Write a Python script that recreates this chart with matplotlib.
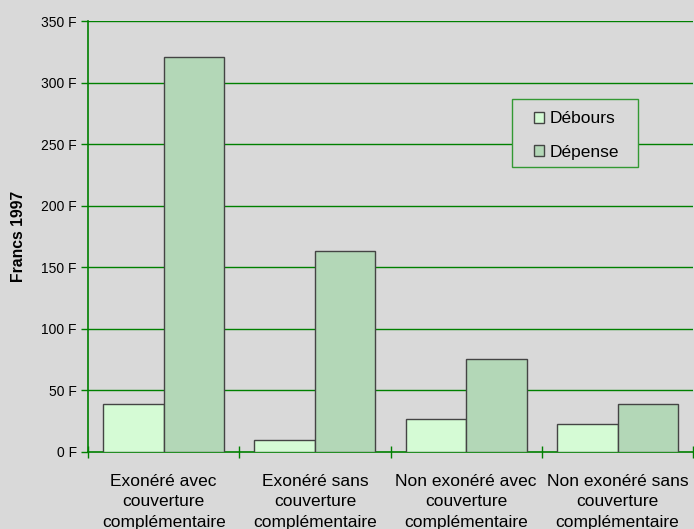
import matplotlib.pyplot as plt
import numpy as np
from matplotlib.patches import Rectangle

plt.rcParams['font.family'] = ['Liberation Sans', 'DejaVu Sans']

categories = ['Exonéré avec\ncouverture\ncomplémentaire',
              'Exonéré sans\ncouverture\ncomplémentaire',
              'Non exonéré avec\ncouverture\ncomplémentaire',
              'Non exonéré sans\ncouverture\ncomplémentaire']
debours = [38.5, 9.3, 26.4, 22.6]
depense = [320.5, 162.7, 75, 38.5]
yticks = [0, 50, 100, 150, 200, 250, 300, 350]

bg = '#d9d9d9'
green = '#008000'
W, H = 694, 529

fig = plt.figure(figsize=(6.94, 5.29), dpi=100, facecolor=bg)
ax = fig.add_axes([0.1268, 0.1465, 0.872, 0.8135], facecolor=bg)

x = np.arange(len(categories))
w = 0.4
ax.bar(x - w / 2, debours, w, color='#d5fbd5', edgecolor='#444444', linewidth=1, label='Débours', zorder=3)
ax.bar(x + w / 2, depense, w, color='#b3d7b7', edgecolor='#444444', linewidth=1, label='Dépense', zorder=3)

ax.set_xlim(-0.5, len(categories) - 0.5)
ax.set_ylim(0, 350)
ax.set_yticks(yticks)
ax.set_yticklabels([f'{v} F' for v in yticks], fontsize=10)
for v in yticks[1:]:
    ax.axhline(v, color=green, linewidth=1, zorder=1)

ax.set_xticks(np.arange(len(categories) + 1) - 0.5)
ax.set_xticklabels([])
ax.set_xticks(x, minor=True)
ax.set_xticklabels(categories, minor=True, fontsize=12.5, linespacing=1.45)
ax.tick_params(axis='x', which='major', direction='inout', length=8, color=green, width=1)
ax.tick_params(axis='x', which='minor', length=0, pad=16)
ax.tick_params(axis='y', direction='out', length=5, color=green, width=1, pad=3)

for s in ['left', 'bottom']:
    ax.spines[s].set_color(green)
    ax.spines[s].set_linewidth(1.2)
for s in ['top', 'right']:
    ax.spines[s].set_visible(False)

ax.set_ylabel('Francs 1997', fontsize=11.3, fontweight='bold', va='center')
ax.yaxis.set_label_coords(19 / W, 0.5 * 0.8135 + 0.1465, transform=fig.transFigure)

# legend frame drawn by hand, legend entries inside it
frame = Rectangle((512 / W, 1 - 167 / H), 126 / W, 68 / H, transform=fig.transFigure,
                  facecolor=bg, edgecolor='#339933', linewidth=1, zorder=4, clip_on=False)
ax.add_patch(frame)
leg = ax.legend(loc='center left', bbox_to_anchor=(534 / W, 1 - 135.5 / H), bbox_transform=fig.transFigure,
                frameon=False, fontsize=12.5, handlelength=0.6, handleheight=0.6, handletextpad=0.3,
                labelspacing=1.05, borderpad=0, borderaxespad=0)
leg.set_zorder(5)

fig.savefig('out.png', dpi=100, facecolor=bg)
